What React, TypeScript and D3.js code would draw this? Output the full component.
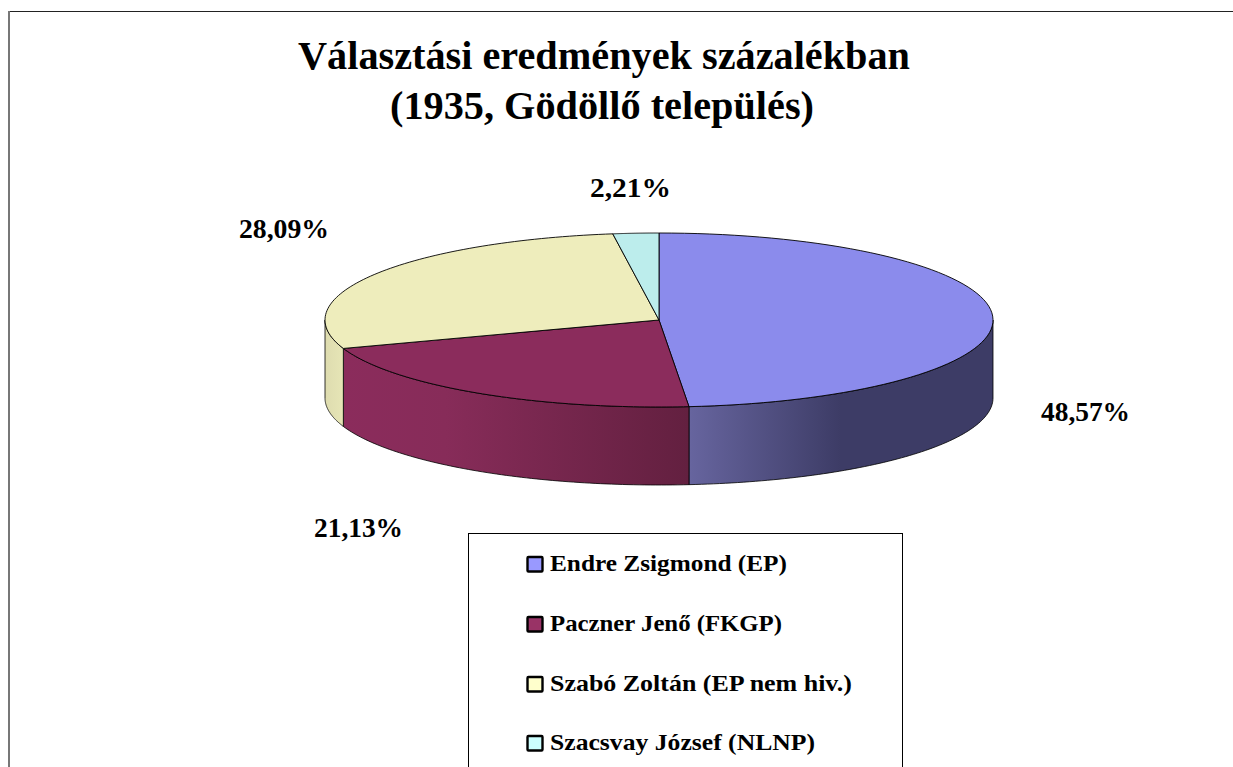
import React from "react";
import * as d3 from "d3";

const W = 1233, H = 767;
const names = ["Endre Zsigmond (EP)", "Paczner Jenő (FKGP)", "Szabó Zoltán (EP nem hiv.)", "Szacsvay József (NLNP)"];
const values = [48.57, 21.13, 28.09, 2.21];
const labels = ["48,57%", "21,13%", "28,09%", "2,21%"];
const topColors = ["#8b8bec", "#8b2c5c", "#eeedbc", "#bcedec"];
const legendColors = ["#9999ff", "#993366", "#ffffcc", "#ccffff"];
const labelPos = [[1041, 421, 89], [314, 537, 89], [239, 238, 90], [590, 197, 81]];
const legendY = [564, 624, 684, 743];
const legendW = [237, 232, 302, 265];

const cx = 659, cy = 320, rx = 334, ry = 87, depth = 78;
const X = d3.scaleLinear().domain([-1, 1]).range([cx - rx, cx + rx]);
const Y = d3.scaleLinear().domain([-1, 1]).range([cy - ry, cy + ry]);

const pie = d3.pie<number>().sort(null)(values);
const pt = (a: number, dy = 0): [number, number] => [X(Math.sin(a)), Y(-Math.cos(a)) + dy];

function sector(a0: number, a1: number) {
  const p = d3.path();
  p.moveTo(cx, cy);
  const [sx, sy] = pt(a0);
  p.lineTo(sx, sy);
  const n = 80;
  for (let i = 1; i <= n; i++) {
    const [x, y] = pt(a0 + ((a1 - a0) * i) / n);
    p.lineTo(x, y);
  }
  p.closePath();
  return p.toString();
}

function side(a0: number, a1: number) {
  const lo = Math.max(a0, Math.PI / 2);
  const hi = Math.min(a1, (3 * Math.PI) / 2);
  if (hi <= lo) return "";
  const p = d3.path();
  const n = 80;
  for (let i = 0; i <= n; i++) {
    const [x, y] = pt(lo + ((hi - lo) * i) / n);
    if (i === 0) p.moveTo(x, y);
    else p.lineTo(x, y);
  }
  for (let i = n; i >= 0; i--) {
    const [x, y] = pt(lo + ((hi - lo) * i) / n, depth);
    p.lineTo(x, y);
  }
  p.closePath();
  return p.toString();
}

const serif = "'Liberation Serif', serif";

export default function App() {
  return (
    <svg width={W} height={H} style={{ position: "absolute", left: 0, top: 0 }} fontFamily={serif} fontWeight="bold" fill="#000">
      <defs>
        <linearGradient id="g0" gradientUnits="userSpaceOnUse" x1={688} x2={993} y1={0} y2={0}>
          <stop offset="0" stopColor="#67659f" />
          <stop offset="0.5" stopColor="#3d3c66" />
          <stop offset="1" stopColor="#3d3c66" />
        </linearGradient>
        <linearGradient id="g1" gradientUnits="userSpaceOnUse" x1={342} x2={688} y1={0} y2={0}>
          <stop offset="0" stopColor="#8b2c5c" />
          <stop offset="0.3" stopColor="#872c59" />
          <stop offset="1" stopColor="#632040" />
        </linearGradient>
        <linearGradient id="g2" gradientUnits="userSpaceOnUse" x1={325} x2={343} y1={0} y2={0}>
          <stop offset="0" stopColor="#dedcaf" />
          <stop offset="1" stopColor="#e6e5b6" />
        </linearGradient>
      </defs>
      <line x1={8} x2={W} y1={11.5} y2={11.5} stroke="#222" strokeWidth={1} />
      <line x1={9} x2={9} y1={11} y2={H} stroke="#777" strokeWidth={2} />
      <text x={298} y={69} fontSize={39} textLength={612} lengthAdjust="spacingAndGlyphs">Választási eredmények százalékban</text>
      <text x={390} y={119} fontSize={39} textLength={424} lengthAdjust="spacingAndGlyphs">(1935, Gödöllő település)</text>
      {pie.map((d, i) => {
        const s = side(d.startAngle, d.endAngle);
        return s ? <path key={i} d={s} fill={`url(#g${i})`} stroke="#000" strokeWidth={0.8} strokeLinejoin="round" /> : null;
      })}
      {pie.map((d, i) => (
        <path key={i} d={sector(d.startAngle, d.endAngle)} fill={topColors[i]} stroke="#000" strokeWidth={0.9} strokeLinejoin="round" />
      ))}
      {labels.map((t, i) => (
        <text key={t} x={labelPos[i][0]} y={labelPos[i][1]} fontSize={27} textLength={labelPos[i][2]} lengthAdjust="spacingAndGlyphs">{t}</text>
      ))}
      <rect x={468.5} y={533.5} width={434} height={H} fill="#fff" stroke="#000" />
      {names.map((n, i) => (
        <g key={n}>
          <rect x={527.5} y={legendY[i] - 7} width={15} height={14.5} rx={1} fill={legendColors[i]} stroke="#000" strokeWidth={2.4} />
          <text x={550} y={legendY[i] + 7} fontSize={24} textLength={legendW[i]} lengthAdjust="spacingAndGlyphs">{n}</text>
        </g>
      ))}
    </svg>
  );
}
